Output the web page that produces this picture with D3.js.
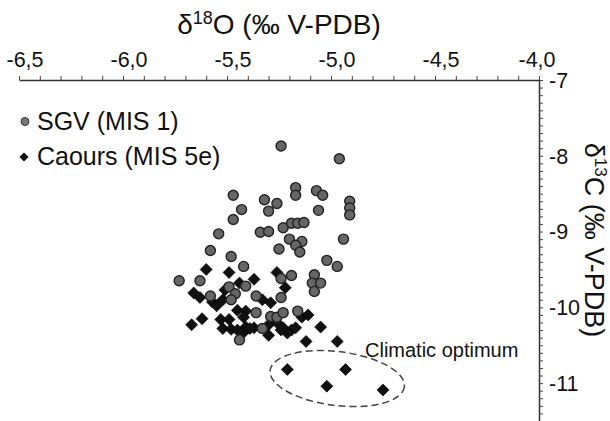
<!DOCTYPE html>
<html>
<head>
<meta charset="utf-8">
<script src="https://cdn.jsdelivr.net/npm/d3@7"></script>
<style>
  body { margin: 0; background: #fff; }
  text { font-family: "Liberation Sans", Arial, sans-serif; fill: #111; }
</style>
</head>
<body>
<script>
// isotope values (per mil V-PDB)
const sgvO18 = [-5.24, -4.96, -5.17, -5.17, -5.07, -5.04, -4.91, -4.91, -4.91, -5.47,
  -5.32, -5.26, -5.30, -5.43, -5.06, -5.47, -5.23, -5.19, -5.16, -5.13,
  -5.34, -5.30, -5.54, -4.94, -5.20, -5.14, -5.17, -5.25, -5.15, -5.58,
  -5.48, -5.02, -4.97, -5.42, -5.73, -5.63, -5.19, -5.24, -5.08, -5.09,
  -5.05, -5.08, -5.41, -5.49, -5.46, -5.58, -5.48, -5.36, -5.24, -5.36,
  -5.29, -5.26, -5.23, -5.16, -5.33, -5.44];
const sgvC13 = [-7.87, -8.04, -8.42, -8.52, -8.46, -8.52, -8.60, -8.69, -8.78, -8.52,
  -8.58, -8.63, -8.73, -8.71, -8.72, -8.84, -8.95, -8.89, -8.89, -8.88,
  -9.01, -9.00, -9.03, -9.10, -9.10, -9.13, -9.18, -9.23, -9.27, -9.25,
  -9.33, -9.38, -9.46, -9.46, -9.65, -9.65, -9.58, -9.62, -9.57, -9.68,
  -9.68, -9.79, -9.72, -9.73, -9.82, -9.85, -9.90, -9.85, -9.87, -10.07,
  -10.12, -10.13, -10.07, -10.05, -10.28, -10.43];

const caoursO18 = [-5.60, -5.49, -5.26, -5.37, -5.44, -5.66, -5.63, -5.51, -5.57, -5.55,
  -5.52, -5.22, -5.33, -5.29, -5.45, -5.41, -5.42, -5.67, -5.62, -5.53,
  -5.49, -5.52, -5.48, -5.41, -5.37, -5.42, -5.30, -5.30, -5.23, -5.19,
  -5.17, -5.21, -5.14, -5.11, -5.05, -5.12, -4.97, -5.21, -4.93, -5.02,
  -4.75, -5.24, -5.26, -5.45, -5.39];
const caoursC13 = [-9.50, -9.54, -9.54, -9.63, -9.68, -9.81, -9.87, -9.77, -9.93, -9.98,
  -9.90, -9.74, -9.90, -9.94, -10.04, -10.05, -10.13, -10.23, -10.15, -10.16,
  -10.16, -10.28, -10.29, -10.26, -10.27, -10.33, -10.23, -10.37, -10.27, -10.30,
  -10.27, -10.34, -10.13, -10.10, -10.26, -10.45, -10.45, -10.82, -10.82, -11.04,
  -11.09, -10.30, -10.20, -10.30, -10.28];

const seriesNames = ["SGV (MIS 1)", "Caours (MIS 5e)"];
const xMajorTicks = [-6.5, -6.0, -5.5, -5.0, -4.5, -4.0];
const yMajorTicks = [-7, -8, -9, -10, -11];

// "climatic optimum" ellipse: centre, radii (data units), tilt in degrees
const optimumCentre = [-4.97, -10.94];
const optimumRadii = [0.325, 0.356];
const optimumTilt = 7;
const optimumLabel = "Climatic optimum";

const w = 610;
const h = 421;

const svg = d3.select("body").append("svg")
  .attr("width", w)
  .attr("height", h);

const x = d3.scaleLinear().domain([-6.5, -4.0]).range([19, 539]);
const y = d3.scaleLinear().domain([-7, -11.5]).range([80, 421]);

const fmt = d3.formatLocale({decimal: ",", thousands: ".", grouping: [3], currency: ["", ""], minus: "-"});

// x axis on top, minor ticks every 0.1
const xMinor = d3.range(-6.5, -3.99, 0.1).map(v => +v.toFixed(1));
svg.append("g")
  .attr("transform", "translate(0,80)")
  .call(d3.axisTop(x).tickValues(xMinor).tickSize(4).tickSizeOuter(0).tickFormat(""))
  .call(g => g.select(".domain").attr("stroke", "#333").attr("stroke-width", 1.5))
  .call(g => g.selectAll(".tick line").attr("stroke", "#444"));

svg.append("g").selectAll("text")
  .data(xMajorTicks)
  .enter().append("text")
  .attr("text-anchor", "middle")
  .attr("font-size", 21.5)
  .attr("x", (d, i) => x(d) + (i === xMajorTicks.length - 1 ? -2 : 6))
  .attr("y", 67)
  .text(d => fmt.format(".1f")(d));

// y axis on the right, minor ticks every 0.1
const yMinor = d3.range(-7, -11.51, -0.1).map(v => +v.toFixed(1));
svg.append("g")
  .attr("transform", "translate(539,0)")
  .call(d3.axisRight(y).tickValues(yMinor).tickSize(4).tickSizeOuter(0).tickFormat(""))
  .call(g => g.select(".domain").attr("stroke", "#333").attr("stroke-width", 1.5))
  .call(g => g.selectAll(".tick line").attr("stroke", "#444"));

svg.append("g").selectAll("text")
  .data(yMajorTicks)
  .enter().append("text")
  .attr("font-size", 21.5)
  .attr("x", 549)
  .attr("y", d => y(d))
  .attr("dy", "0.36em")
  .text(d => fmt.format("d")(d));

// axis titles
const xTitle = svg.append("text")
  .attr("text-anchor", "middle")
  .attr("font-size", 28)
  .attr("x", 279)
  .attr("y", 34);
xTitle.append("tspan").text("δ");
xTitle.append("tspan").attr("font-size", 18).attr("dy", -10).text("18");
xTitle.append("tspan").attr("dy", 10).text("O (‰ V-PDB)");

const yTitle = svg.append("text")
  .attr("text-anchor", "middle")
  .attr("font-size", 27)
  .attr("transform", "translate(585,240) rotate(90)");
yTitle.append("tspan").text("δ");
yTitle.append("tspan").attr("font-size", 17).attr("dy", -10).text("13");
yTitle.append("tspan").attr("dy", 10).text("C (‰ V-PDB)");

// data
const caours = caoursO18.map((d, i) => [d, caoursC13[i]]);
const sgv = sgvO18.map((d, i) => [d, sgvC13[i]]);
const diamond = d3.symbol().type(d3.symbolSquare).size(72);

svg.append("g").selectAll("path")
  .data(caours)
  .enter().append("path")
  .attr("d", diamond)
  .attr("transform", d => "translate(" + x(d[0]) + "," + y(d[1]) + ") rotate(45)")
  .attr("fill", "#111")
  .attr("stroke", "#000")
  .attr("stroke-width", 0.6);

svg.append("g").selectAll("circle")
  .data(sgv)
  .enter().append("circle")
  .attr("cx", d => x(d[0]))
  .attr("cy", d => y(d[1]))
  .attr("r", 5)
  .attr("fill", "#666")
  .attr("stroke", "#222")
  .attr("stroke-width", 1.4);

// climatic optimum
const ex = x(optimumCentre[0]);
const ey = y(optimumCentre[1]);
svg.append("ellipse")
  .attr("cx", 0).attr("cy", 0)
  .attr("rx", x(optimumCentre[0] + optimumRadii[0]) - ex)
  .attr("ry", y(optimumCentre[1] - optimumRadii[1]) - ey)
  .attr("transform", "translate(" + ex + "," + ey + ") rotate(" + optimumTilt + ")")
  .attr("fill", "none")
  .attr("stroke", "#444")
  .attr("stroke-width", 1.5)
  .attr("stroke-dasharray", "7,4");

svg.append("text")
  .attr("font-size", 20)
  .attr("x", 365)
  .attr("y", 357)
  .text(optimumLabel);

// legend
const legend = svg.append("g");
legend.append("circle")
  .attr("cx", 25).attr("cy", 121.5).attr("r", 4)
  .attr("fill", "#777").attr("stroke", "#333").attr("stroke-width", 1);
legend.append("path")
  .attr("d", d3.symbol().type(d3.symbolSquare).size(42))
  .attr("transform", "translate(24,157) rotate(45)")
  .attr("fill", "#111");
legend.selectAll("text")
  .data(seriesNames)
  .enter().append("text")
  .attr("font-size", 25)
  .attr("x", 37)
  .attr("y", (d, i) => 130 + i * 35)
  .text(d => d);
</script>
</body>
</html>
